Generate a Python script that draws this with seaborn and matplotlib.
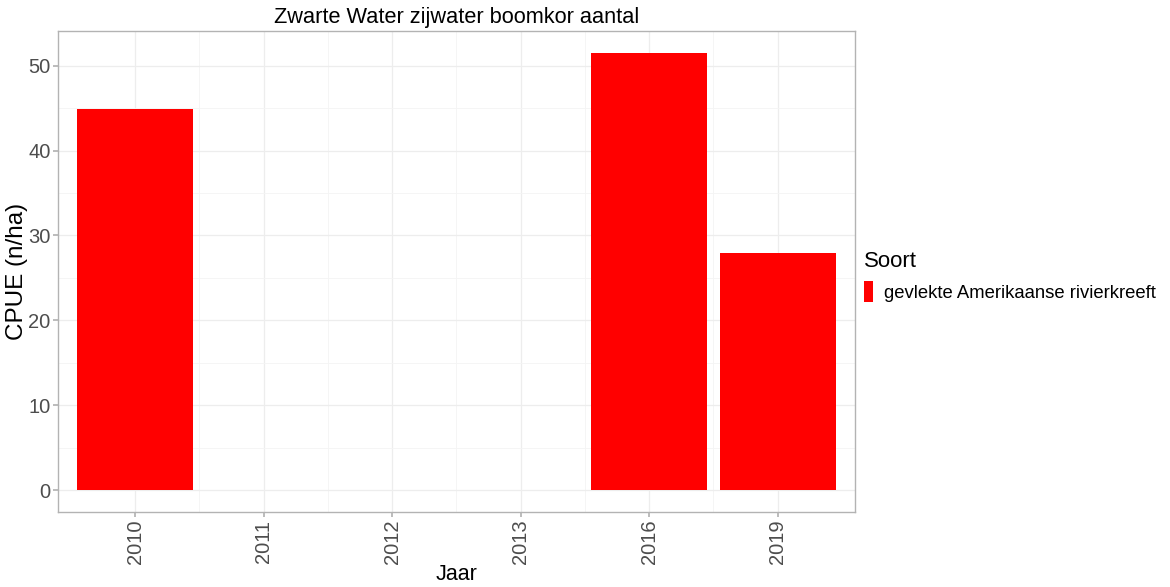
import matplotlib
matplotlib.use("Agg")
import matplotlib.pyplot as plt
import seaborn as sns
import pandas as pd
from matplotlib.patches import Patch
from matplotlib.ticker import MultipleLocator

years = ["2010", "2011", "2012", "2013", "2016", "2019"]
cpue = [44.9, 0.0, 0.0, 0.0, 51.5, 27.9]
soort = "gevlekte Amerikaanse rivierkreeft"

df = pd.DataFrame({"Jaar": years, "CPUE": cpue})

sns.set_theme(style="white")
plt.rcParams["font.family"] = ["Liberation Sans", "DejaVu Sans"]
plt.rcParams["text.color"] = "black"
plt.rcParams["axes.labelcolor"] = "black"

fig = plt.figure(figsize=(11.7, 5.87), dpi=100)
ax = fig.add_axes([0.0496, 0.128, 0.681, 0.819])

sns.barplot(data=df, x="Jaar", y="CPUE", color="#FF0000", saturation=1,
            width=0.9, linewidth=0, ax=ax)

ax.set_xlim(-0.6, len(years) - 0.4)
ax.set_ylim(-2.575, 54.075)
ax.yaxis.set_major_locator(MultipleLocator(10))
ax.yaxis.set_minor_locator(MultipleLocator(5))
ax.set_xticks(range(len(years)))
ax.set_xticks([i + 0.5 for i in range(len(years) - 1)], minor=True)

ax.grid(which="major", color="#EDEDED", linewidth=0.9)
ax.grid(which="minor", color="#F4F4F4", linewidth=0.6)
ax.set_axisbelow(True)
for s in ax.spines.values():
    s.set_color("#B3B3B3")
    s.set_linewidth(1.0)

ax.tick_params(axis="both", which="major", length=3.5, color="#B3B3B3",
               labelsize=14.5, labelcolor="#4D4D4D", direction="out",
               bottom=True, left=True, pad=2)
ax.tick_params(axis="both", which="minor", length=0)
plt.setp(ax.get_xticklabels(), rotation=90)

ax.set_title("Zwarte Water zijwater boomkor aantal", fontsize=15.7, pad=6,
             color="black")
ax.set_xlabel("Jaar", fontsize=15.5, color="black")
ax.xaxis.set_label_coords(0.5, -0.13)
ax.xaxis.label.set_va("center")
ax.set_ylabel("CPUE (n/ha)", fontsize=17.5, color="black")
ax.yaxis.set_label_coords(-0.052, 0.5)
ax.yaxis.label.set_va("center")

handles = [Patch(facecolor="#FF0000", edgecolor="none", label=soort)]
leg = ax.legend(handles=handles, title="Soort", loc="center left",
                bbox_to_anchor=(1.0, 0.49), frameon=False, fontsize=13.3,
                title_fontsize=16, handlelength=0.5, handleheight=1.4,
                handletextpad=0.6, borderaxespad=0.3, borderpad=0.2)
leg._legend_box.align = "left"
for t in leg.get_texts():
    t.set_color("black")
leg.get_title().set_color("black")

fig.savefig("out.png", dpi=100)
